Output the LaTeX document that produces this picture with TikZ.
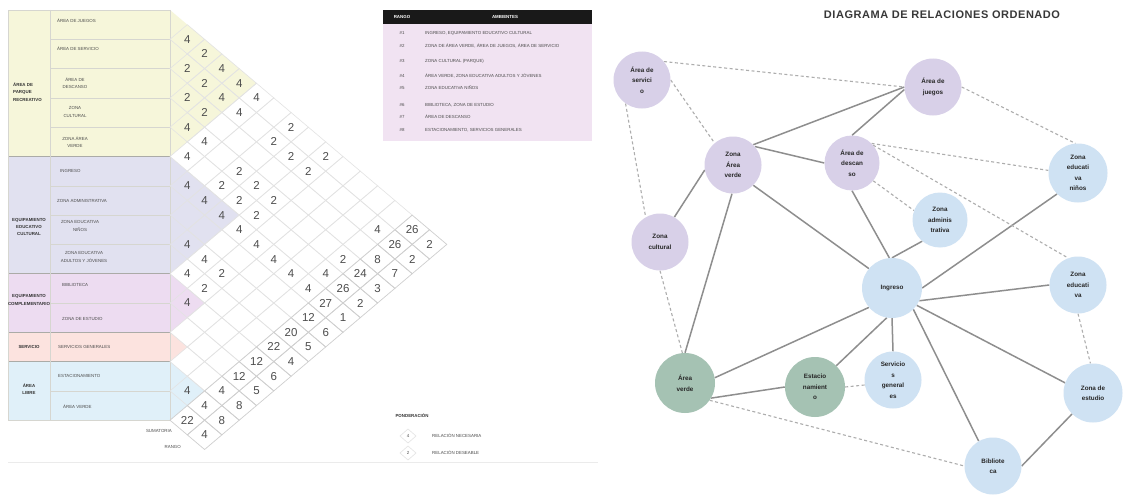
\documentclass[tikz,border=0pt]{standalone}
\usepackage{fontspec}
\setmainfont{Liberation Sans}
\usetikzlibrary{backgrounds}

\definecolor{cYel}{HTML}{F6F6DA}
\definecolor{cLav}{HTML}{E1E1F0}
\definecolor{cPnk}{HTML}{EDDCF1}
\definecolor{cSal}{HTML}{FCE3DF}
\definecolor{cSky}{HTML}{E0F0F9}
\definecolor{gridc}{HTML}{E3E3E3}
\definecolor{stripc}{HTML}{CFCFCF}
\definecolor{sepc}{HTML}{D6D6D0}
\definecolor{numc}{HTML}{4D4D4D}
\definecolor{nLav}{HTML}{D8D0E8}
\definecolor{nBlu}{HTML}{CFE2F3}
\definecolor{nGrn}{HTML}{A5C2B3}
\definecolor{eSol}{HTML}{8E8E8E}
\definecolor{eDsh}{HTML}{ADADAD}
\definecolor{tabPnk}{HTML}{F1E3F2}

\newcommand\grfont{\fontsize{6.3}{10.5}\selectfont\bfseries}
\newcommand\numfont{\fontsize{11.5}{12}\selectfont}
\newcommand\tyfont{\fontsize{4.4}{7.5}\selectfont}
\newcommand\tybfont{\fontsize{4.4}{7.3}\selectfont\bfseries}
\newcommand\ttlfont{\fontsize{11}{12}\selectfont\bfseries\addfontfeatures{LetterSpace=5}}

\begin{document}
\begin{tikzpicture}[x=1pt,y=-1pt,
  gnode/.style={circle, minimum size=57pt, inner sep=0pt, align=center, font=\grfont, text=black!85},
  solidE/.style={draw=eSol, line width=1.5pt},
  dashE/.style={draw=eDsh, line width=1.1pt, dash pattern=on 3pt off 2.5pt},
  num/.style={font=\numfont, text=numc, inner sep=0pt},
  tyl/.style={font=\tyfont, inner sep=0pt, text=black!70, align=left},
  tyc/.style={font=\tyfont, inner sep=0pt, text=black!70, align=center},
  cat/.style={font=\tybfont, inner sep=0pt, text=black!80, align=center},
  cell/.style={draw=gridc, line width=0.6pt},
  scell/.style={draw=stripc, line width=0.7pt}
]
\useasboundingbox (0,0) rectangle (1123,495);
\begin{pgfonlayer}{background}
  \fill[white] (0,0) rectangle (1123,495);
\end{pgfonlayer}

% ---------- left table: colour bands ----------
\def\hh{29.3}
\fill[cYel] (8,10) rectangle (170,{10+5*\hh});
\fill[cLav] (8,{10+5*\hh}) rectangle (170,{10+9*\hh});
\fill[cPnk] (8,{10+9*\hh}) rectangle (170,{10+11*\hh});
\fill[cSal] (8,{10+11*\hh}) rectangle (170,{10+12*\hh});
\fill[cSky] (8,{10+12*\hh}) rectangle (170,{10+14*\hh});

% coloured wedges of each group inside the matrix
\fill[cYel] (170,10) -- ({170+5*17.3},{10+2.5*\hh}) -- (170,{10+5*\hh}) -- cycle;
\fill[cLav] (170,{10+5*\hh}) -- ({170+4*17.3},{10+7*\hh}) -- (170,{10+9*\hh}) -- cycle;
\fill[cPnk] (170,{10+9*\hh}) -- ({170+2*17.3},{10+10*\hh}) -- (170,{10+11*\hh}) -- cycle;
\fill[cSal] (170,{10+11*\hh}) -- ({170+1*17.3},{10+11.5*\hh}) -- (170,{10+12*\hh}) -- cycle;
\fill[cSky] (170,{10+12*\hh}) -- ({170+2*17.3},{10+13*\hh}) -- (170,{10+14*\hh}) -- cycle;

% row separators
\foreach \r in {1,2,3,4,6,7,8,10,13}
  \draw[sepc, line width=0.5pt] (50,{10+\r*\hh}) -- (170,{10+\r*\hh});
\foreach \r in {5,9,11,12}
  \draw[sepc!80!black, line width=0.6pt] (8,{10+\r*\hh}) -- (170,{10+\r*\hh});
\draw[sepc, line width=0.6pt] (50,10) -- (50,{10+14*\hh});
\draw[sepc, line width=0.6pt] (8,10) rectangle (170,{10+14*\hh});

% ---------- relation matrix grid ----------
\foreach \i in {1,...,14}{
  \pgfmathtruncatemacro\jst{\i+1}
  \foreach \j in {\jst,...,16}{
    \pgfmathsetmacro\cx{170+(\j-\i)*17.3}
    \pgfmathsetmacro\cy{10+(\i+\j-1)*14.65}
    \ifnum\j>14
      \draw[scell] (\cx-17.3,\cy) -- (\cx,\cy-14.65) -- (\cx+17.3,\cy) -- (\cx,\cy+14.65) -- cycle;
    \else
      \draw[cell] (\cx-17.3,\cy) -- (\cx,\cy-14.65) -- (\cx+17.3,\cy) -- (\cx,\cy+14.65) -- cycle;
    \fi
  }
}

% relation weights
\foreach \i/\j/\v in {1/2/4,1/3/2,2/3/2,1/4/4,2/4/2,1/5/4,3/4/2,2/5/4,1/6/4,3/5/2,
  2/6/4,4/5/4,1/8/2,4/6/4,2/8/2,5/6/4,2/9/2,1/10/2,4/8/2,2/10/2,6/7/4,5/8/2,4/9/2,
  6/8/4,5/9/2,4/10/2,6/9/4,5/10/2,6/10/4,2/14/4,8/9/4,6/11/4,8/10/4,6/12/4,4/14/2,
  9/10/4,8/11/2,6/13/4,5/14/4,9/11/2,6/14/4,10/11/4,13/14/4}
  \node[num] (m\i-\j) at ({170+(\j-\i)*17.3},{10+(\i+\j-1)*14.65}) {\v};

% sum and rank strip
\foreach \i/\s/\r in {1/26/2,2/26/2,3/8/7,4/24/3,5/26/2,6/27/1,7/12/6,8/20/5,
  9/22/4,10/12/6,11/12/5,12/4/8,13/4/8,14/22/4}{
  \node[num] (s\i) at ({170+(15-\i)*17.3},{10+(\i+14)*14.65}) {\s};
  \node[num] (r\i) at ({170+(16-\i)*17.3},{10+(\i+15)*14.65}) {\r};
}
\node[tyl, anchor=east] (lsum) at (172,431) {SUMATORIA};
\node[tyl, anchor=east] (lran) at (181,447) {RANGO};

% ---------- left table texts ----------
\node[cat, align=left, anchor=west] (c1) at (13,92) {ÁREA DE\\PARQUE\\RECREATIVO};
\node[cat] (c2) at (29,227) {EQUIPAMIENTO\\EDUCATIVO\\CULTURAL};
\node[cat] (c3) at (29,300) {EQUIPAMIENTO\\COMPLEMENTARIO};
\node[cat] (c4) at (29,347) {SERVICIO};
\node[cat] (c5) at (29,389) {ÁREA\\LIBRE};

\node[tyl, anchor=west] (t1) at (57,21) {ÁREA DE JUEGOS};
\node[tyl, anchor=west] (t2) at (57,49) {ÁREA DE SERVICIO};
\node[tyc] (t3) at (75,83) {ÁREA DE\\DESCANSO};
\node[tyc] (t4) at (75,112) {ZONA\\CULTURAL};
\node[tyc] (t5) at (75,142) {ZONA ÁREA\\VERDE};
\node[tyl, anchor=west] (t6) at (60,171) {INGRESO};
\node[tyl, anchor=west] (t7) at (57,201) {ZONA ADMINISTRATIVA};
\node[tyc] (t8) at (80,226) {ZONA EDUCATIVA\\NIÑOS};
\node[tyc] (t9) at (84,257) {ZONA EDUCATIVA\\ADULTOS Y JÓVENES};
\node[tyl, anchor=west] (t10) at (62,285) {BIBLIOTECA};
\node[tyl, anchor=west] (t11) at (62,319) {ZONA DE ESTUDIO};
\node[tyl, anchor=west] (t12) at (58,347) {SERVICIOS GENERALES};
\node[tyl, anchor=west] (t13) at (58,376) {ESTACIONAMIENTO};
\node[tyl, anchor=west] (t14) at (63,407) {ÁREA VERDE};

% ---------- ranking table ----------
\fill[tabPnk] (383,24) rectangle (592,141);
\fill[black!90] (383,10) rectangle (592,24);
\node[font=\tybfont, text=white] (hr) at (402,17) {RANGO};
\node[font=\tybfont, text=white] (ha) at (505,17) {AMBIENTES};
\foreach \k/\yy/\txt in {1/33/{INGRESO, EQUIPAMIENTO EDUCATIVO CULTURAL},
  2/46/{ZONA DE ÁREA VERDE, ÁREA DE JUEGOS, ÁREA DE SERVICIO},
  3/61/{ZONA CULTURAL (PARQUE)},
  4/76/{ÁREA VERDE, ZONA EDUCATIVA ADULTOS Y JÓVENES},
  5/88/{ZONA EDUCATIVA NIÑOS},
  6/105/{BIBLIOTECA, ZONA DE ESTUDIO},
  7/117/{ÁREA DE DESCANSO},
  8/130/{ESTACIONAMIENTO, SERVICIOS GENERALES}}{
  \node[tyc] (rk\k) at (402,\yy) {\#\k};
  \node[tyl, anchor=west] (rt\k) at (425,\yy) {\txt};
}

% ---------- legend ----------
\node[font=\tybfont, text=black!80, anchor=west] (lg) at (392,416) {PONDERACIÓN};
\draw[cell] (400,436) -- (408,429) -- (416,436) -- (408,443) -- cycle;
\draw[cell] (400,453) -- (408,446) -- (416,453) -- (408,460) -- cycle;
\node[tyc] (lg4) at (408,436) {4};
\node[tyc] (lg2) at (408,453) {2};
\node[tyl, anchor=west] (lgA) at (432,436) {RELACIÓN NECESARIA};
\node[tyl, anchor=west] (lgB) at (432,453) {RELACIÓN DESEABLE};
\draw[black!8, line width=0.6pt] (8,462) -- (598,462);

% ---------- relation diagram ----------
\node[font=\ttlfont, text=black!78] (title) at (942,15) {DIAGRAMA DE RELACIONES ORDENADO};

\node[gnode, fill=nLav] (srv) at (642,80) {Área de\\servici\\o};
\node[gnode, fill=nLav] (jue) at (933,87) {Área de\\juegos};
\node[gnode, fill=nLav] (zav) at (733,165) {Zona\\Área\\verde};
\node[gnode, fill=nLav, minimum size=55pt] (des) at (852,163) {Área de\\descan\\so};
\node[gnode, fill=nBlu, minimum size=59pt] (zen) at (1078,173) {Zona\\educati\\va\\niños};
\node[gnode, fill=nBlu, minimum size=55pt] (adm) at (940,220) {Zona\\adminis\\trativa};
\node[gnode, fill=nLav] (cul) at (660,242) {Zona\\cultural};
\node[gnode, fill=nBlu, minimum size=60pt] (ing) at (892,288) {Ingreso};
\node[gnode, fill=nBlu] (zed) at (1078,285) {Zona\\educati\\va};
\node[gnode, fill=nGrn, minimum size=60pt] (av) at (685,383) {Área\\verde};
\node[gnode, fill=nGrn, minimum size=60pt] (est) at (815,387) {Estacio\\namient\\o};
\node[gnode, fill=nBlu] (sg) at (893,380) {Servicio\\s\\general\\es};
\node[gnode, fill=nBlu, minimum size=59pt] (zes) at (1093,393) {Zona de\\estudio};
\node[gnode, fill=nBlu] (bib) at (993,466) {Bibliote\\ca};

\begin{pgfonlayer}{background}
  % necessary relations
  \draw[solidE] (zav.45) -- (jue.180);
  \draw[solidE] (zav.40) -- (des.180);
  \draw[solidE] (cul.60) -- (zav.190);
  \draw[solidE] (zav.-92) -- (av.90);
  \draw[solidE] (zav.-45) -- (ing.140);
  \draw[solidE] (des.90) -- (jue.185);
  \draw[solidE] (des.-90) -- (ing.95);
  \draw[solidE] (adm.-130) -- (ing.90);
  \draw[solidE] (zen.-135) -- (ing.0);
  \draw[solidE] (ing.-25) -- (zed.180);
  \draw[solidE] (ing.-140) -- (av.10);
  \draw[solidE] (ing.-100) -- (est.45);
  \draw[solidE] (ing.-90) -- (sg.90);
  \draw[solidE] (ing.-35) -- (zes.160);
  \draw[solidE] (ing.-45) -- (bib.120);
  \draw[solidE] (av.-30) -- (est.180);
  \draw[solidE] (zes.-135) -- (bib.0);
  % desirable relations
  \draw[dashE] (srv.40) -- (jue.180);
  \draw[dashE] (srv.0) -- (zav.130);
  \draw[dashE] (srv.235) -- (cul.120);
  \draw[dashE] (jue.0) -- (zen.95);
  \draw[dashE] (des.45) -- (zen.175);
  \draw[dashE] (des.40) -- (zed.110);
  \draw[dashE] (des.-40) -- (adm.160);
  \draw[dashE] (cul.-90) -- (av.95);
  \draw[dashE] (av.-35) -- (bib.180);
  \draw[dashE] (est.0) -- (sg.190);
  \draw[dashE] (zed.-90) -- (zes.95);
\end{pgfonlayer}
\end{tikzpicture}
\end{document}
